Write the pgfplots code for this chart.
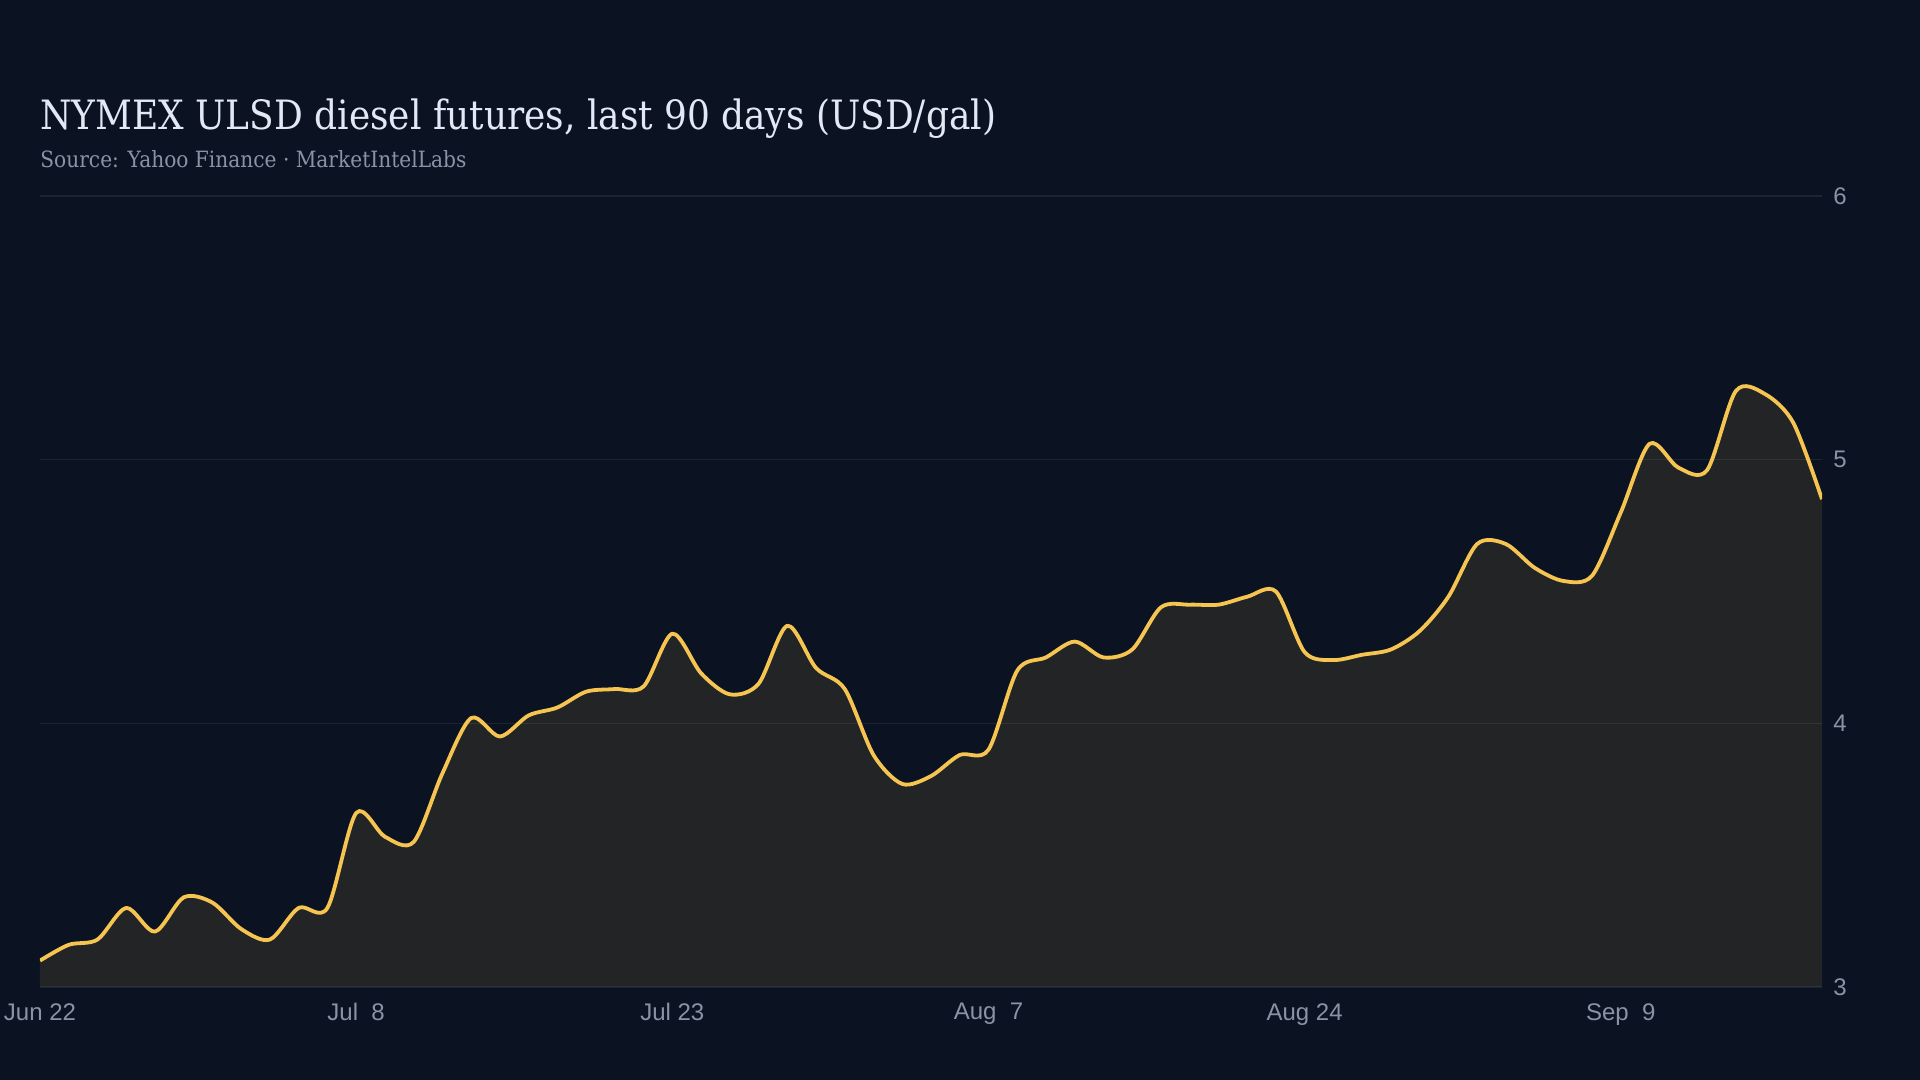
\documentclass[border=0pt]{standalone}
\usepackage{fontspec}
\usepackage{pgfplots}
\pgfplotsset{compat=1.18}
\setmainfont{Liberation Sans}
\newfontfamily\titlefont[FakeStretch=0.89]{DejaVu Serif}
\newfontfamily\subfont[FakeStretch=0.90]{DejaVu Serif}

\definecolor{bgcol}{RGB}{11,18,34}
\definecolor{gold}{RGB}{245,196,81}
\definecolor{gridcol}{RGB}{29,36,49}
\definecolor{basecol}{RGB}{44,51,64}
\definecolor{tickcol}{RGB}{138,147,166}
\definecolor{titlecol}{RGB}{226,232,244}
\definecolor{subcol}{RGB}{138,147,166}

% ULSD settle prices, one row per trading day
\pgfplotstableread{
idx price
0 3.10
1 3.16
2 3.18
3 3.30
4 3.21
5 3.34
6 3.32
7 3.22
8 3.18
9 3.30
10 3.30
11 3.66
12 3.57
13 3.55
14 3.81
15 4.02
16 3.95
17 4.03
18 4.06
19 4.12
20 4.13
21 4.14
22 4.34
23 4.19
24 4.11
25 4.15
26 4.37
27 4.21
28 4.13
29 3.88
30 3.77
31 3.80
32 3.88
33 3.90
34 4.20
35 4.25
36 4.31
37 4.25
38 4.28
39 4.44
40 4.45
41 4.45
42 4.48
43 4.50
44 4.27
45 4.24
46 4.26
47 4.28
48 4.35
49 4.48
50 4.68
51 4.68
52 4.59
53 4.54
54 4.56
55 4.80
56 5.06
57 4.97
58 4.96
59 5.26
60 5.25
61 5.14
62 4.85
}\ulsd

\begin{document}
\begin{tikzpicture}
  \useasboundingbox (0,0) rectangle (960pt,540pt);
  \fill[bgcol] (0,0) rectangle (960pt,540pt);

  \node[anchor=base west, inner sep=0pt, text=titlecol,
        font=\titlefont\fontsize{20.2}{24}\selectfont] at (20pt,475pt)
    {NYMEX ULSD diesel futures, last 90 days (USD/gal)};
  \node[anchor=base west, inner sep=0pt, text=subcol,
        font=\subfont\fontsize{11.2}{13}\selectfont] at (20pt,456pt)
    {Source: Yahoo Finance · MarketIntelLabs};

  \begin{axis}[
    at={(20pt,46.5pt)}, anchor=south west,
    scale only axis,
    width=891pt, height=395.5pt,
    xmin=0, xmax=62,
    ymin=3, ymax=6,
    axis line style={draw=none},
    xtick={0,11,22,33,44,55},
    xticklabels={Jun 22, Jul\ \ 8, Jul 23, Aug\ \ 7, Aug 24, Sep\ \ 9},
    ytick={3,4,5,6},
    ytick pos=right,
    yticklabel pos=right,
    major tick length=0pt,
    ymajorgrids,
    grid style={gridcol, line width=0.6pt},
    /pgf/number format/assume math mode=true,
    ticklabel style={font=\fontsize{12}{14}\selectfont, text=tickcol, inner sep=0pt},
    xticklabel style={anchor=north, yshift=-8pt},
    yticklabel style={anchor=west, xshift=5.5pt},
  ]
    \addplot[draw=none, fill=gold, fill opacity=0.1, smooth, tension=0.5]
      table[x=idx, y=price] {\ulsd} \closedcycle;
    \addplot[basecol, line width=0.8pt] coordinates {(0,3) (62,3)};
    \addplot[gold, line width=1.9pt, smooth, tension=0.5, line join=round]
      table[x=idx, y=price] {\ulsd};
  \end{axis}
\end{tikzpicture}
\end{document}
